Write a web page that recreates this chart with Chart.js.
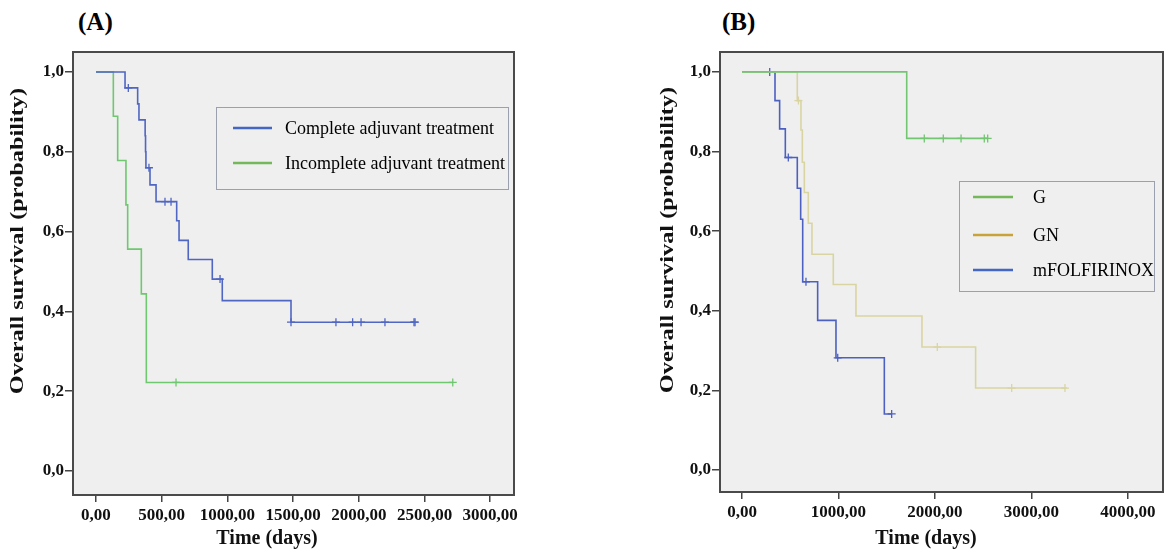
<!DOCTYPE html>
<html>
<head>
<meta charset="utf-8">
<script src="https://cdn.jsdelivr.net/npm/chart.js@4.4.1/dist/chart.umd.min.js"></script>
<style>
  body { margin: 0; background: #fff; width: 1176px; height: 551px; overflow: hidden; position: relative; font-family: "Liberation Serif", serif; }
  .panel { position: absolute; top: 0; height: 551px; }
  #wrapA { left: 0; width: 560px; }
  #wrapB { left: 600px; width: 576px; }
  .tag { position: absolute; top: 8px; font-weight: bold; font-size: 25px; color: #000; }
</style>
</head>
<body>
<div class="tag" style="left:78px">(A)</div>
<div class="tag" style="left:722px">(B)</div>
<div class="panel" id="wrapA"><canvas id="chartA" width="560" height="551"></canvas></div>
<div class="panel" id="wrapB"><canvas id="chartB" width="576" height="551"></canvas></div>
<script>
// Panel A: survival by adjuvant treatment completion
const aLabels = ['Complete adjuvant treatment', 'Incomplete adjuvant treatment'];
const aCompleteTimes = [0, 221, 317, 327, 374, 377, 380, 411, 457, 614, 632, 702, 885, 961, 1484, 2428];
const aCompleteSurv  = [1.0, 0.96, 0.92, 0.88, 0.84, 0.80, 0.76, 0.717, 0.675, 0.627, 0.578, 0.53, 0.481, 0.427, 0.373, 0.373];
const aCompleteCensor = [246, 403, 525, 571, 944, 1484, 1826, 1953, 2017, 2199, 2420, 2428];
const aIncompleteTimes = [0, 132, 165, 228, 241, 345, 383, 2715];
const aIncompleteSurv  = [1.0, 0.889, 0.778, 0.667, 0.556, 0.444, 0.222, 0.222];
const aIncompleteCensor = [609, 2715];

// Panel B: survival by chemotherapy regimen
const bLabels = ['G', 'GN', 'mFOLFIRINOX'];
const bGTimes = [0, 1707, 2546];
const bGSurv  = [1.0, 0.833, 0.833];
const bGCensor = [1889, 2086, 2270, 2511, 2546];
const bGNTimes = [0, 573, 611, 625, 646, 687, 725, 946, 1181, 1865, 2421, 3365];
const bGNSurv  = [1.0, 0.928, 0.854, 0.773, 0.697, 0.62, 0.542, 0.466, 0.387, 0.309, 0.206, 0.206];
const bGNCensor = [585, 2024, 2795, 3347];
const bFolTimes = [0, 342, 390, 449, 573, 608, 629, 784, 974, 1475, 1551];
const bFolSurv  = [1.0, 0.928, 0.857, 0.785, 0.708, 0.63, 0.473, 0.376, 0.282, 0.141, 0.141];
const bFolCensor = [287, 480, 663, 992, 1551];

const yTicks = [0, 0.2, 0.4, 0.6, 0.8, 1.0];
const aXTicks = [0, 500, 1000, 1500, 2000, 2500, 3000];
const bXTicks = [0, 1000, 2000, 3000, 4000];

const FONT = 'Liberation Serif';
const Y_TITLE = 'Overall survival (probability)';
const X_TITLE = 'Time (days)';

// survival value at time t from step arrays
function survAt(times, surv, t) {
    let v = surv[0];
    for (let i = 0; i < times.length; i++) {
        if (times[i] <= t) v = surv[i];
    }
    return v;
}

function curve(times, surv, color) {
    return {
        data: times.map((t, i) => ({ x: t, y: surv[i] })),
        stepped: 'before',
        borderColor: color,
        borderWidth: 1.6,
        pointRadius: 0,
        fill: false
    };
}

function censors(times, surv, cens, color) {
    return {
        data: cens.map(t => ({ x: t, y: survAt(times, surv, t) })),
        showLine: false,
        pointStyle: 'cross',
        pointRadius: 4,
        borderColor: color,
        borderWidth: 1.3
    };
}

// grey plot background and frame
const plotFrame = {
    id: 'plotFrame',
    beforeDatasetsDraw(chart) {
        const { ctx, chartArea: a } = chart;
        ctx.save();
        ctx.fillStyle = '#efefef';
        ctx.fillRect(a.left, a.top, a.right - a.left, a.bottom - a.top);
        ctx.restore();
    },
    afterDatasetsDraw(chart) {
        const { ctx, chartArea: a } = chart;
        ctx.save();
        ctx.strokeStyle = '#4a4a4a';
        ctx.lineWidth = 2;
        ctx.strokeRect(a.left, a.top, a.right - a.left, a.bottom - a.top);
        ctx.restore();
    }
};

// axis titles placed like the original figure (y title is tall/stretched)
const axisTitles = {
    id: 'axisTitles',
    afterDraw(chart, args, opts) {
        const { ctx } = chart;
        ctx.save();
        ctx.fillStyle = '#111';
        ctx.textAlign = 'center';
        ctx.textBaseline = 'middle';
        ctx.font = 'bold ' + opts.xSize + 'px "' + FONT + '"';
        ctx.fillText(X_TITLE, opts.xPos[0], opts.xPos[1]);
        ctx.translate(opts.yPos[0], opts.yPos[1]);
        ctx.rotate(-Math.PI / 2);
        ctx.scale(opts.stretch, 1);
        ctx.font = 'bold ' + opts.ySize + 'px "' + FONT + '"';
        ctx.fillText(Y_TITLE, 0, 0);
        ctx.restore();
    }
};

// boxed legend inside the plot
const boxLegend = {
    id: 'boxLegend',
    afterDraw(chart, args, opts) {
        const { ctx } = chart;
        const b = opts.box;
        ctx.save();
        ctx.fillStyle = '#efefef';
        ctx.fillRect(b[0], b[1], b[2], b[3]);
        ctx.strokeStyle = '#9aa0ae';
        ctx.lineWidth = 1;
        ctx.strokeRect(b[0] + 0.5, b[1] + 0.5, b[2], b[3]);
        ctx.font = '18px "' + FONT + '"';
        ctx.textBaseline = 'middle';
        opts.items.forEach((it, i) => {
            const y = opts.rows[i];
            ctx.strokeStyle = it.color;
            ctx.lineWidth = 2.5;
            ctx.beginPath();
            ctx.moveTo(opts.lineX[0], y);
            ctx.lineTo(opts.lineX[1], y);
            ctx.stroke();
            ctx.fillStyle = '#000';
            ctx.fillText(it.text, opts.textX, y + 1);
        });
        ctx.restore();
    }
};

function makeOptions(xMin, xMax, xTicks, yMin, xHeight, yWidth, pad, legend, titles) {
    return {
        responsive: false,
        animation: false,
        layout: { padding: pad },
        plugins: {
            legend: { display: false },
            tooltip: { enabled: false },
            boxLegend: legend,
            axisTitles: titles
        },
        scales: {
            x: {
                type: 'linear',
                min: xMin,
                max: xMax,
                afterBuildTicks: s => { s.ticks = xTicks.map(v => ({ value: v })); },
                afterFit: s => { s.height = xHeight; },
                grid: { drawOnChartArea: false, drawTicks: true, tickLength: 7, color: '#444', lineWidth: 1.5 },
                border: { display: false },
                ticks: {
                    padding: 3,
                    maxRotation: 0,
                    color: '#111',
                    font: { family: FONT, size: 17, weight: 'bold' },
                    callback: v => v.toFixed(2).replace('.', ',')
                }
            },
            y: {
                min: yMin,
                max: 1.05,
                afterBuildTicks: s => { s.ticks = yTicks.map(v => ({ value: v })); },
                afterFit: s => { s.width = yWidth; },
                grid: { drawOnChartArea: false, drawTicks: true, tickLength: 8, color: '#444', lineWidth: 1.5 },
                border: { display: false },
                ticks: {
                    padding: 1,
                    color: '#111',
                    font: { family: FONT, size: 17, weight: 'bold' },
                    callback: v => v.toFixed(1).replace('.', ',')
                }
            }
        }
    };
}

const blueA = '#4f66c2';
const greenA = '#6fc76f';

new Chart(document.getElementById('chartA').getContext('2d'), {
    type: 'line',
    data: {
        datasets: [
            curve(aCompleteTimes, aCompleteSurv, blueA),
            censors(aCompleteTimes, aCompleteSurv, aCompleteCensor, blueA),
            curve(aIncompleteTimes, aIncompleteSurv, greenA),
            censors(aIncompleteTimes, aIncompleteSurv, aIncompleteCensor, greenA)
        ]
    },
    options: makeOptions(-175, 3181, aXTicks, -0.06, 56, 73,
        { top: 52, right: 46, bottom: 0, left: 0 },
        {
            box: [216, 107, 292, 82],
            rows: [128, 163],
            lineX: [233, 272],
            textX: 285,
            items: [
                { text: aLabels[0], color: '#4466c4' },
                { text: aLabels[1], color: '#74b85a' }
            ]
        },
        { xPos: [267, 539], xSize: 20, yPos: [18, 241], ySize: 19, stretch: 1.28 }),
    plugins: [plotFrame, boxLegend, axisTitles]
});

const greenB = '#72c672';
const goldB = '#d9d5a2';
const blueB = '#4c60c2';

new Chart(document.getElementById('chartB').getContext('2d'), {
    type: 'line',
    data: {
        datasets: [
            curve(bGTimes, bGSurv, greenB),
            censors(bGTimes, bGSurv, bGCensor, greenB),
            curve(bGNTimes, bGNSurv, goldB),
            censors(bGNTimes, bGNSurv, bGNCensor, goldB),
            curve(bFolTimes, bFolSurv, blueB),
            censors(bFolTimes, bFolSurv, bFolCensor, blueB)
        ]
    },
    options: makeOptions(-228, 4363, bXTicks, -0.055, 59, 120,
        { top: 52, right: 13, bottom: 0, left: 0 },
        {
            box: [359, 181, 195, 110],
            rows: [197, 235, 270],
            lineX: [373, 413],
            textX: 433,
            items: [
                { text: bLabels[0], color: '#74b85a' },
                { text: bLabels[1], color: '#c9a23a' },
                { text: bLabels[2], color: '#4466c4' }
            ]
        },
        { xPos: [326, 539], xSize: 20, yPos: [68, 240], ySize: 19, stretch: 1.28 }),
    plugins: [plotFrame, boxLegend, axisTitles]
});
</script>
</body>
</html>
